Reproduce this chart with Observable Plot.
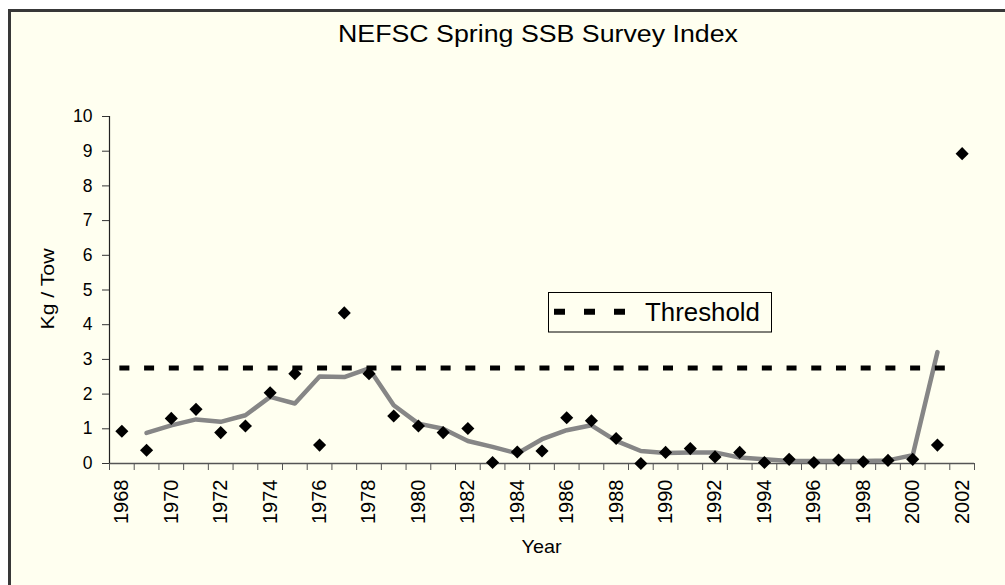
<!DOCTYPE html>
<html>
<head>
<meta charset="utf-8">
<script src="https://cdn.jsdelivr.net/npm/d3@7"></script>
<script src="https://cdn.jsdelivr.net/npm/@observablehq/plot@0.6"></script>
<style>
  html, body { margin: 0; padding: 0; background: #ffffff; overflow: hidden; width: 1005px; height: 585px; }
  #frame { position: absolute; left: 8px; top: 9px; width: 1100px; height: 700px; background: #FFFFF0; border: 3px solid #383838; box-sizing: border-box; }
  #chart { position: absolute; left: 0; top: 0; }
  .overlay { position: absolute; left: 0; top: 0; pointer-events: none; }
</style>
</head>
<body>
<div id="frame"></div>
<div id="chart"></div>
<svg class="overlay" width="1005" height="585" id="texts" font-family="Liberation Sans, Arial, sans-serif"></svg>
<script>
// ---- data ----
const years = [1968,1969,1970,1971,1972,1973,1974,1975,1976,1977,1978,1979,1980,1981,1982,1983,1984,1985,
               1986,1987,1988,1989,1990,1991,1992,1993,1994,1995,1996,1997,1998,1999,2000,2001,2002];
const surveyIndex = [0.93,0.38,1.30,1.56,0.89,1.08,2.04,2.59,0.53,4.34,2.59,1.37,1.08,0.89,1.01,0.03,0.33,0.36,
                     1.32,1.23,0.72,0.00,0.32,0.43,0.19,0.32,0.03,0.12,0.03,0.10,0.05,0.09,0.12,0.53,8.93];
const avgYears = [1969,1970,1971,1972,1973,1974,1975,1976,1977,1978,1979,1980,1981,1982,1983,1984,1985,
                  1986,1987,1988,1989,1990,1991,1992,1993,1994,1995,1996,1997,1998,1999,2000,2001];
const avgValues = [0.88,1.10,1.27,1.20,1.39,1.92,1.73,2.51,2.49,2.74,1.68,1.15,1.00,0.65,0.48,0.29,0.70,
                   0.96,1.10,0.65,0.36,0.30,0.32,0.32,0.17,0.12,0.07,0.07,0.07,0.07,0.09,0.24,3.21];
const thresholdValue = 2.75;
const thresholdSpan = [1967.92, 2001.4];
const xDomain = [1967.5, 2002.5];
const yTicks = [0,1,2,3,4,5,6,7,8,9,10];
const xLabelYears = [1968,1970,1972,1974,1976,1978,1980,1982,1984,1986,1988,1990,1992,1994,1996,1998,2000,2002];
const xBoundaries = [...years.map(y => y - 0.5), 2002.5];
const titleText = "NEFSC Spring SSB Survey Index";
const yTitle = "Kg / Tow";
const xTitle = "Year";
const legendLabel = "Threshold";

const points = years.map((y, i) => ({year: y, value: surveyIndex[i]}));
const avg = avgYears.map((y, i) => ({year: y, value: avgValues[i]}));

const plot = Plot.plot({
  width: 1005,
  height: 585,
  marginLeft: 109,
  marginRight: 31,
  marginTop: 116,
  marginBottom: 122,
  style: {background: "transparent", fontFamily: "Liberation Sans, Arial, sans-serif", color: "#000"},
  x: {type: "linear", domain: xDomain},
  y: {type: "linear", domain: [0, 10]},
  marks: [
    Plot.ruleY([0], {stroke: "#555", strokeWidth: 1.5}),
    Plot.ruleX([xDomain[0]], {stroke: "#222", strokeWidth: 1.2}),
    Plot.axisY({ticks: yTicks, tickSize: 7, tickPadding: 10, fontSize: 17, label: null,
                tickFormat: d => String(d), stroke: "#333"}),
    Plot.axisX({ticks: xBoundaries, tickSize: 7, tickFormat: () => "", label: null, stroke: "#555"}),
    Plot.axisX({ticks: xLabelYears, tickSize: 0, tickPadding: 16, tickRotate: -90, textAnchor: "end",
                fontSize: 20, label: null, tickFormat: d => String(d)}),
    Plot.line(avg, {x: "year", y: "value", stroke: "#868686", strokeWidth: 4.5, strokeLinejoin: "round"}),
    Plot.ruleY([thresholdValue], {x1: thresholdSpan[0], x2: thresholdSpan[1], stroke: "#000",
                strokeWidth: 5, strokeDasharray: "10,14.71"}),
    Plot.dot(points, {x: "year", y: "value", symbol: "diamond2", r: 5.9, fill: "#000", stroke: "none"})
  ]
});
document.getElementById("chart").appendChild(plot);

// enforce tick-label font sizes
const svgEl = plot.tagName.toLowerCase() === "svg" ? plot : plot.querySelector("svg");
const svg = d3.select(svgEl);
svg.selectAll('g[aria-label="y-axis tick label"]').style("font-size", "17.5px");
svg.selectAll('g[aria-label="x-axis tick label"]').style("font-size", "20px");

// ---- title, axis titles and legend ----
const t = d3.select("#texts");
t.append("text").attr("x", 538).attr("y", 41.7).attr("text-anchor", "middle")
  .attr("font-size", 23.3).attr("textLength", 400).attr("lengthAdjust", "spacingAndGlyphs").text(titleText);
t.append("text").attr("transform", "translate(53.5,289) rotate(-90)").attr("text-anchor", "middle")
  .attr("font-size", 18).attr("textLength", 81).attr("lengthAdjust", "spacingAndGlyphs").text(yTitle);
t.append("text").attr("x", 541.5).attr("y", 553).attr("text-anchor", "middle")
  .attr("font-size", 18.5).attr("textLength", 40).attr("lengthAdjust", "spacingAndGlyphs").text(xTitle);
// legend
const lg = t.append("g");
lg.append("rect").attr("x", 548.5).attr("y", 292.5).attr("width", 223).attr("height", 39.5)
  .attr("fill", "#FFFFF0").attr("stroke", "#000").attr("stroke-width", 1);
lg.append("line").attr("x1", 554).attr("x2", 626).attr("y1", 311.7).attr("y2", 311.7)
  .attr("stroke", "#000").attr("stroke-width", 6).attr("stroke-dasharray", "11,19");
lg.append("text").attr("x", 645).attr("y", 321).attr("font-size", 26)
  .attr("textLength", 115).attr("lengthAdjust", "spacingAndGlyphs").text(legendLabel);
</script>
</body>
</html>
